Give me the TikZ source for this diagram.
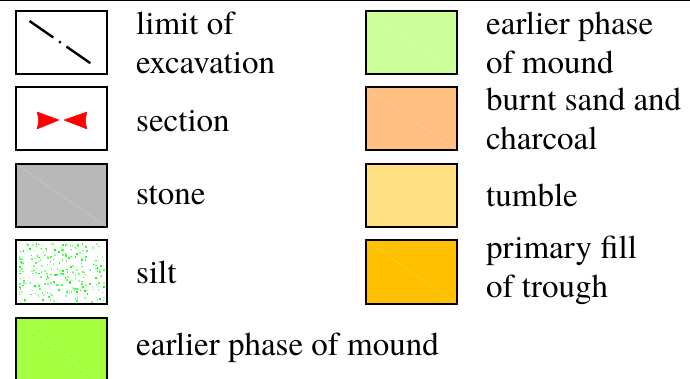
\documentclass[tikz,border=0pt]{standalone}
\usepackage{fontspec}
\setmainfont{TeX Gyre Termes}
\definecolor{stonegrey}{RGB}{184,184,184}
\definecolor{paleleaf}{RGB}{204,255,153}
\definecolor{burnt}{RGB}{255,191,128}
\definecolor{tumble}{RGB}{255,223,128}
\definecolor{trough}{RGB}{255,192,0}
\definecolor{brightleaf}{RGB}{164,255,64}
\begin{document}
\begin{tikzpicture}[x=1pt,y=-1pt,
  swatch/.style={draw=black,line width=2pt,rectangle,minimum width=91pt,minimum height=63pt,inner sep=0pt},
  sheen/.style={draw=white,draw opacity=0.2,line width=0.6pt},
  legendtext/.style={anchor=west,inner sep=0pt,align=left,font=\fontsize{33}{39}\selectfont},
  marker/.style={fill=red,draw=red,line width=0.5pt,line join=round}]
\useasboundingbox (0,0) rectangle (690,379);
\clip (0,0) rectangle (690,379);
% rule along the top edge
\draw[line width=2pt] (0,0.5) -- (690,0.5);

% left column
\node[swatch] (limitbox) at (61.5,42.5) {};
\draw[line width=2.4pt,dash pattern=on 29pt off 7pt on 2pt off 7pt]
  (29.5,21) -- (93,65);
\node[legendtext] (limitlbl) at (136,42.5) {limit of\\excavation};

\node[swatch] (sectionbox) at (61.5,119) {};
\fill[marker] (37,112) -- (59,120) -- (37,129) .. controls (39,123) and (39,118) .. cycle;
\fill[marker] (87,112) -- (64,120) -- (87,129) .. controls (85,123) and (85,118) .. cycle;
\node[legendtext] (sectionlbl) at (136,121) {section};

\node[swatch,fill=stonegrey] (stonebox) at (61.5,195.5) {};
\draw[sheen] (stonebox.north west) -- (stonebox.south east);
\node[legendtext] (stonelbl) at (136,195.5) {stone};

\node[swatch,fill=white] (siltbox) at (61.5,272) {};
\pgfmathsetseed{11}
\foreach \i in {1,...,260} {
  \pgfmathsetmacro\px{18+rnd*86}
  \pgfmathsetmacro\py{243+rnd*58}
  \pgfmathsetmacro\shade{30+rnd*70}
  \fill[green!\shade!white] (\px,\py) rectangle ++(1.6,1.6);
}
\node[swatch] at (siltbox) {};
\node[legendtext] (siltlbl) at (136,272) {silt};

\node[swatch,fill=brightleaf,minimum height=70pt] (moundbox) at (61.5,353) {};
\draw[sheen] (moundbox.north west) -- (moundbox.south east);
\node[legendtext] (moundlbl) at (136,348) {earlier phase of mound};

% right column
\node[swatch,fill=paleleaf] (earlybox) at (411.5,42.5) {};
\draw[sheen] (earlybox.north west) -- (earlybox.south east);
\node[legendtext] (earlylbl) at (486,42.5) {earlier phase\\of mound};

\node[swatch,fill=burnt] (burntbox) at (411.5,119) {};
\draw[sheen] (burntbox.north west) -- (burntbox.south east);
\node[legendtext] (burntlbl) at (486,119) {burnt sand and\\charcoal};

\node[swatch,fill=tumble] (tumblebox) at (411.5,195.5) {};
\draw[sheen] (tumblebox.north west) -- (tumblebox.south east);
\node[legendtext] (tumblelbl) at (486,195.5) {tumble};

\node[swatch,fill=trough] (troughbox) at (411.5,272) {};
\draw[sheen] (troughbox.north west) -- (troughbox.south east);
\node[legendtext] (troughlbl) at (486,270) {primary fill\\of trough};
\end{tikzpicture}
\end{document}
